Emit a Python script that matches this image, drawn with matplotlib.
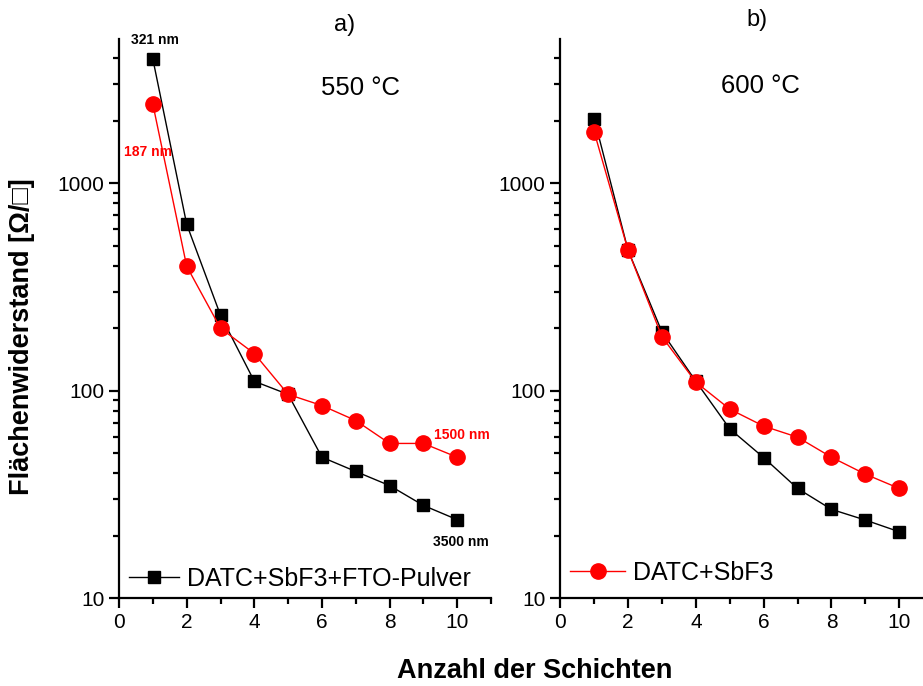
import matplotlib
matplotlib.use("Agg")
import matplotlib.pyplot as plt
from matplotlib.ticker import FixedLocator, LogLocator, NullFormatter, MultipleLocator

plt.rcParams["font.family"] = ["Liberation Sans", "DejaVu Sans"]

# ── Daten ─────────────────────────────────────────────────────────────────────
schichten = [1, 2, 3, 4, 5, 6, 7, 8, 9, 10]

# a) 550 °C
fto_550  = [3960, 634, 231, 111, 96, 47.8, 40.8, 34.9, 28.0, 23.9]
sbf3_550 = [2400, 398, 200, 151, 96, 84.8, 71.8, 55.7, 55.7, 47.8]

# b) 600 °C
fto_600  = [2050, 475, 192, 111, 65.5, 47.6, 33.8, 26.8, 23.8, 20.9]
sbf3_600 = [1770, 475, 182, 110, 81.5, 67.5, 59.7, 47.8, 39.6, 33.8]

label_fto  = "DATC+SbF3+FTO-Pulver"
label_sbf3 = "DATC+SbF3"

fig = plt.figure(figsize=(9.23, 6.86), dpi=100)
ax_a = fig.add_axes([0.129, 0.128, 0.403, 0.815])
ax_b = fig.add_axes([0.607, 0.128, 0.404, 0.815])

black = dict(color="black", marker="s", markersize=9, linewidth=1.0)
red   = dict(color="#ff0000", marker="o", markersize=11, linewidth=1.0)

ax_a.plot(schichten, fto_550, label=label_fto, **black)
ax_a.plot(schichten, sbf3_550, **red)
ax_b.plot(schichten, fto_600, **black)
ax_b.plot(schichten, sbf3_600, label=label_sbf3, **red)

for ax in (ax_a, ax_b):
    ax.set_yscale("log")
    ax.set_ylim(10, 4950)
    ax.set_xlim(0, 11)
    ax.spines["top"].set_visible(False)
    ax.spines["right"].set_visible(False)
    ax.spines["left"].set_linewidth(1.6)
    ax.spines["bottom"].set_linewidth(1.6)
    ax.xaxis.set_major_locator(FixedLocator([0, 2, 4, 6, 8, 10]))
    ax.xaxis.set_minor_locator(MultipleLocator(1))
    ax.yaxis.set_major_locator(FixedLocator([10, 100, 1000]))
    ax.yaxis.set_minor_locator(LogLocator(base=10, subs=range(2, 10)))
    ax.yaxis.set_minor_formatter(NullFormatter())
    ax.set_yticklabels(["10", "100", "1000"])
    ax.tick_params(which="major", direction="out", length=7, width=1.6, labelsize=15)
    ax.tick_params(which="minor", direction="out", length=4, width=1.6)

ax_a.legend(loc="lower left", frameon=False, fontsize=18, handlelength=2.0,
            handletextpad=0.3, borderaxespad=0.0, bbox_to_anchor=(0.0, -0.005))
ax_b.legend(loc="lower left", frameon=False, fontsize=18, handlelength=2.2,
            handletextpad=0.3, borderaxespad=0.0, bbox_to_anchor=(0.0, 0.006))

# ── Beschriftungen ────────────────────────────────────────────────────────────
ax_a.text(1.07, 4890, "321 nm", fontsize=10, fontweight="bold", ha="center",
          va="center", clip_on=False)
ax_a.text(0.86, 1410, "187 nm", fontsize=10, fontweight="bold", color="#ff0000",
          ha="center", va="center")
ax_a.text(10.15, 61, "1500 nm", fontsize=10, fontweight="bold", color="#ff0000",
          ha="center", va="center")
ax_a.text(10.12, 18.6, "3500 nm", fontsize=10, fontweight="bold", ha="center",
          va="center")

ax_a.text(0.648, 0.912, "550 °C", transform=ax_a.transAxes, fontsize=18.5,
          ha="center", va="center")
ax_b.text(0.536, 0.917, "600 °C", transform=ax_b.transAxes, fontsize=18.5,
          ha="center", va="center")

fig.text(345 / 923, 1 - 25 / 686, "a)", fontsize=17, ha="center", va="center")
fig.text(757 / 923, 1 - 20 / 686, "b)", fontsize=17, ha="center", va="center")

fig.text(22 / 923, 1 - 337 / 686, "Flächenwiderstand [Ω/□]", rotation=90,
         fontsize=19.5, fontweight="bold", ha="center", va="center")
fig.text(535 / 923, 1 - 671 / 686, "Anzahl der Schichten", fontsize=19.5,
         fontweight="bold", ha="center", va="center")

fig.savefig("out.png", dpi=100)
